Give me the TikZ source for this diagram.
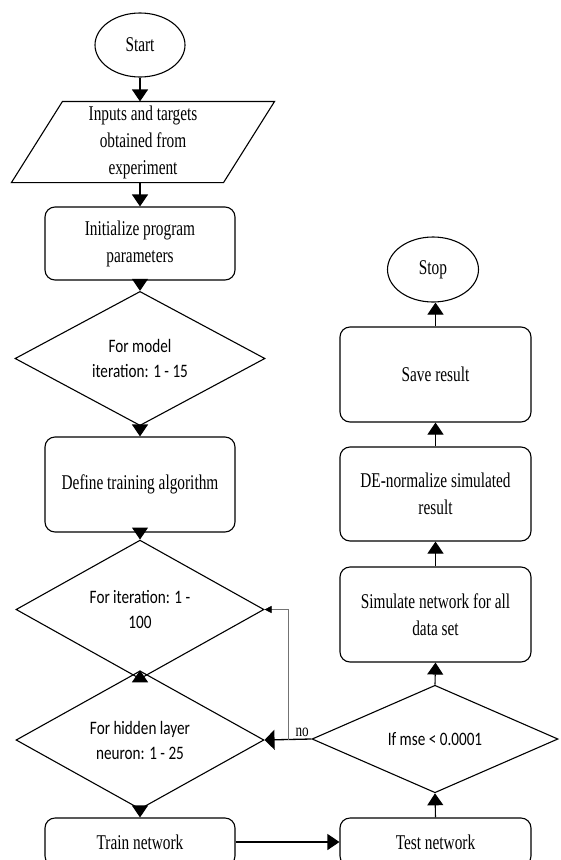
\documentclass[tikz,border=0pt]{standalone}
\usepackage{fontspec}
\setmainfont{Liberation Serif}[FakeStretch=0.73]
\newfontfamily\calib{Carlito}[FakeStretch=0.80]
\usetikzlibrary{shapes.geometric,arrows.meta,calc}
\newcommand\serifsz{\fontsize{21}{27}\selectfont}
\newcommand\calibsz{\calib\fontsize{19}{25}\selectfont}
\newcommand\nosz{\fontsize{18}{22}\selectfont}
\begin{document}
\begin{tikzpicture}[x=1pt,y=-1pt,
  base/.style={draw, line width=1.1pt, inner sep=0pt, align=center, font=\serifsz},
  rbox/.style={base, rectangle, rounded corners=10pt, minimum width=190pt},
  dia/.style={base, diamond, font=\calibsz},
  oval/.style={base, ellipse},
  arr/.style={line width=1.1pt, -{Triangle[width=16pt,length=12pt]}},
  noarr/.style={line width=1.3pt, -{Triangle[width=20pt,length=10pt]}},
  thinarr/.style={line width=0.6pt, draw=black!55, -{Triangle[width=7pt,length=7pt,fill=black,color=black]}}
]
\fill[white] (0,0) rectangle (560,860);
\useasboundingbox (0,0) rectangle (560,860);

% left column
\node[oval, minimum width=90pt, minimum height=64pt] (start) at (140,45) {Start};
\node[base, draw=none, rectangle, minimum width=160pt, minimum height=80pt] (inp) at (143,142)
  {Inputs and targets\\obtained from\\experiment};
\draw[line width=1.1pt] ($(inp.south west)+(-51,0)$) -- (inp.south east)
  -- ($(inp.north east)+(51,0)$) -- (inp.north west) -- cycle;
\node[rbox, minimum height=73pt] (init) at (140,243.5) {Initialize program\\parameters};
\node[dia, minimum width=250pt, minimum height=103pt] (d1) at (140,358.5) {For model\\iteration: 1 - 15};
\node[rbox, minimum height=95pt] (define) at (140,484.5) {Define training algorithm};
\node[dia, minimum width=248pt, minimum height=105pt] (d2) at (140,609.5) {For iteration: 1 -\\100};
\node[dia, minimum width=248pt, minimum height=104pt] (d3) at (140,740) {For hidden layer\\neuron: 1 - 25};
\node[rbox, minimum height=48pt] (train) at (140,842) {Train network};

% right column
\node[rbox, minimum width=191pt, minimum height=48pt] (test) at (435.5,842) {Test network};
\node[dia, minimum width=246pt, minimum height=102pt] (d4) at (435,739) {If mse < 0.0001};
\node[rbox, minimum width=191pt, minimum height=95pt] (sim) at (435.5,614.5) {Simulate network for all\\data set};
\node[rbox, minimum width=191pt, minimum height=94pt] (de) at (435.5,494) {DE-normalize simulated\\result};
\node[rbox, minimum width=191pt, minimum height=95pt] (save) at (435.5,374.5) {Save result};
\node[oval, minimum width=91pt, minimum height=65pt] (stop) at (433,269.5) {Stop};

% connectors
\draw[arr] (start.south) -- (start.south |- inp.north);
\draw[arr] (init.north |- inp.south) -- (init.north);
\draw[arr] (init.south) -- (d1.north);
\draw[arr] (d1.south) -- (define.north);
\draw[arr] (define.south) -- (d2.north);
\draw[arr] (d2.south) -- (d3.north);
\draw[arr] (d3.south) -- (train.north);
\draw[arr] (train.east) -- (test.west);
\draw[arr] (test.north) -- (d4.south);
\draw[arr] (d4.north) -- (sim.south);
\draw[arr] (sim.north) -- (de.south);
\draw[arr] (de.north) -- (save.south);
\draw[arr] (save.north) -- (save.north |- stop.south);
\draw[noarr] (d4.west) -- node[pos=0.2, above=1pt, font=\nosz, inner sep=1pt] (no) {no} (d3.east);
\coordinate (br) at (288,740);
\draw[thinarr] (br) |- (d2.east);
\end{tikzpicture}
\end{document}
